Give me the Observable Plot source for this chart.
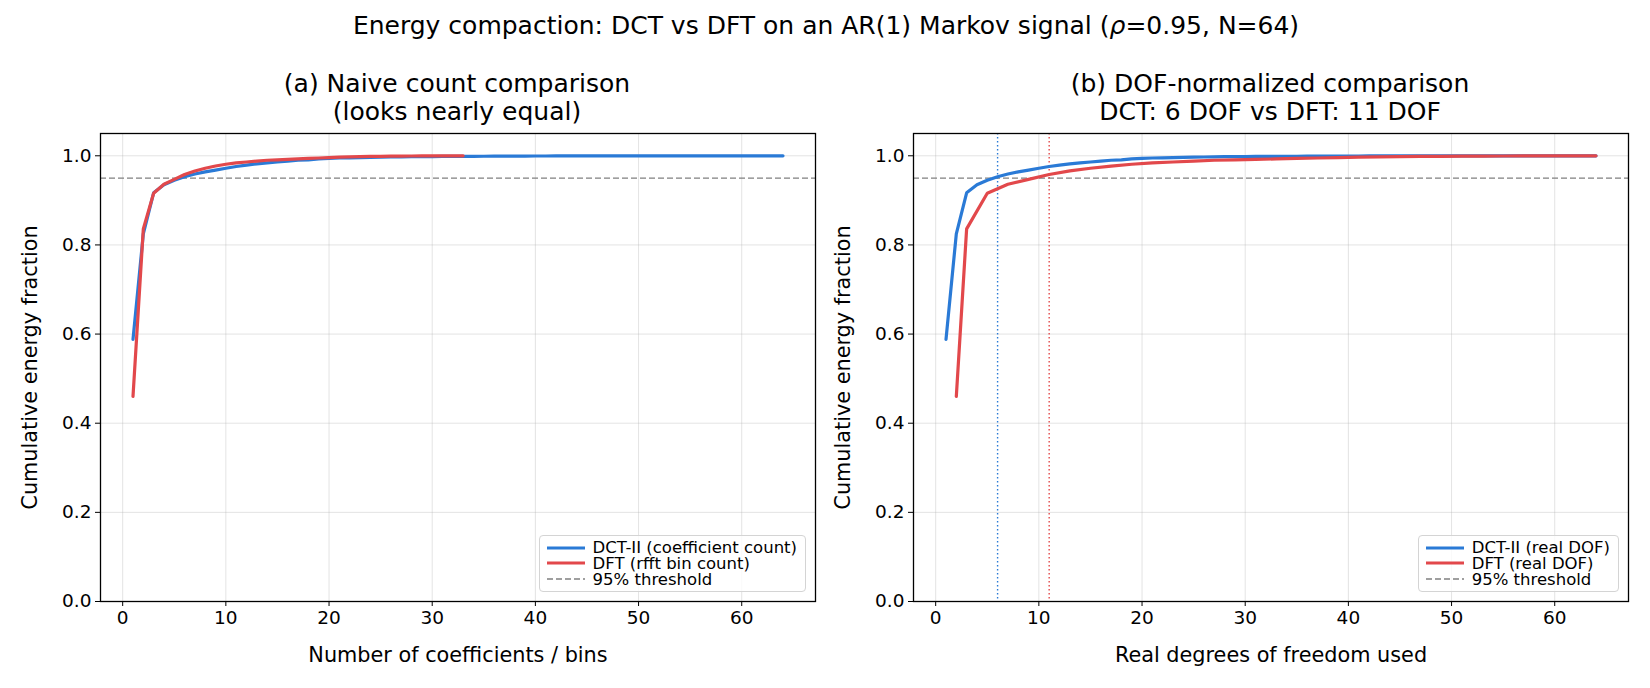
<!DOCTYPE html>
<html>
<head>
<meta charset="utf-8">
<script src="https://cdn.jsdelivr.net/npm/d3@7"></script>
<script src="https://cdn.jsdelivr.net/npm/@observablehq/plot@0.6"></script>
<style>
  html, body { margin: 0; padding: 0; background: #fff; }
  #fig { position: relative; width: 1650px; height: 688px; font-family: "DejaVu Sans", sans-serif; color: #000; }
  #fig svg.plot { position: absolute; top: 0; }
  .ttl { position: absolute; text-align: center; font-size: 25px; line-height: 28px; white-space: nowrap; transform: translateX(-50%); }
  .legend { position: absolute; background: rgba(255,255,255,0.8); border: 1px solid #d4d4d4; border-radius: 4px; padding: 4px 8px 4px 7px; font-size: 16.5px; }
  .legend .row { display: flex; align-items: center; height: 15.8px; white-space: nowrap; }
  .legend svg { margin-right: 8px; }
</style>
</head>
<body>
<div id="fig"></div>
<script>
// Cumulative energy fraction of the DCT-II coefficients, k = 1..64
const dctCount = [1,2,3,4,5,6,7,8,9,10,11,12,13,14,15,16,17,18,19,20,21,22,23,24,25,26,27,28,29,30,31,32,
  33,34,35,36,37,38,39,40,41,42,43,44,45,46,47,48,49,50,51,52,53,54,55,56,57,58,59,60,61,62,63,64];
const dctEnergy = [0.588,0.825,0.917,0.935,0.945,0.953,0.959,0.964,0.968,0.972,0.976,0.979,0.982,0.984,0.986,0.988,
  0.990,0.991,0.993,0.994,0.995,0.9955,0.996,0.9965,0.997,0.9973,0.9976,0.9979,0.9981,0.9983,0.9985,0.9987,
  0.9988,0.9989,0.9990,0.9991,0.9992,0.9993,0.9994,0.9995,0.99955,0.9996,0.99965,0.9997,0.99974,0.99978,0.99981,0.99984,
  0.99987,0.99989,0.99991,0.99993,0.99994,0.99995,0.99996,0.99997,0.99998,0.99998,0.99999,0.99999,0.99999,1.0,1.0,1.0];

// Cumulative energy fraction of the rfft bins, 33 bins
const dftCount = [1,2,3,4,5,6,7,8,9,10,11,12,13,14,15,16,17,18,19,20,21,22,23,24,25,26,27,28,29,30,31,32,33];
const dftEnergy = [0.460,0.836,0.916,0.936,0.947,0.958,0.966,0.972,0.977,0.981,0.984,0.986,0.988,0.990,0.991,0.992,
  0.993,0.994,0.995,0.996,0.997,0.9975,0.998,0.9985,0.9988,0.9991,0.9993,0.9995,0.9997,0.9998,0.9999,0.99995,1.0];

// Real degrees of freedom used by each transform
const dctDof = dctCount;
const dftDof = [2,3,5,7,9,11,13,15,17,19,21,23,25,27,29,31,33,35,37,39,41,43,45,47,49,51,53,55,57,59,61,63,64];

const threshold = 0.95;
const dofNeeded = { dct: 6, dft: 11 };

const xTicks = [0,10,20,30,40,50,60];
const yTicks = [0,0.2,0.4,0.6,0.8,1.0];

const BLUE = "#2a7ad6";
const RED = "#e2484b";
const GREY = "#808080";

const fig = document.getElementById("fig");

function rows(xs, ys) { return xs.map((x, i) => ({x, y: ys[i]})); }

function panel({width, xLabel, dct, dft, markers}) {
  const marks = [
    Plot.gridX(xTicks, {stroke: "#b0b0b0", strokeOpacity: 0.35, strokeWidth: 1}),
    Plot.gridY(yTicks, {stroke: "#b0b0b0", strokeOpacity: 0.35, strokeWidth: 1}),
    Plot.ruleY([threshold], {stroke: GREY, strokeWidth: 1.3, strokeDasharray: "6,3"})
  ];
  if (markers) {
    marks.push(Plot.ruleX([dofNeeded.dct], {stroke: BLUE, strokeWidth: 1.4, strokeDasharray: "1.5,2.5"}));
    marks.push(Plot.ruleX([dofNeeded.dft], {stroke: RED, strokeWidth: 1.4, strokeDasharray: "1.5,2.5"}));
  }
  marks.push(
    Plot.line(dct, {x: "x", y: "y", stroke: BLUE, strokeWidth: 3.2, strokeLinejoin: "miter"}),
    Plot.line(dft, {x: "x", y: "y", stroke: RED, strokeWidth: 3.2, strokeLinejoin: "miter"}),
    Plot.frame({stroke: "#000", strokeWidth: 1.3}),
    Plot.axisX(xTicks, {tickSize: 5, tickPadding: 4, fontSize: 18.5, label: null}),
    Plot.axisY(yTicks, {tickSize: 5, tickPadding: 4, fontSize: 18.5, tickFormat: d3.format(".1f"), label: null}),
    Plot.axisX({ticks: [], tickSize: 0, fontSize: 20.8, label: xLabel, labelAnchor: "center", labelArrow: "none", labelOffset: 60}),
    Plot.axisY({ticks: [], tickSize: 0, fontSize: 20.8, label: "Cumulative energy fraction", labelAnchor: "center", labelArrow: "none", labelOffset: 78})
  );
  const svg = Plot.plot({
    width: 100 + width + 20,
    height: 688,
    marginLeft: 100,
    marginRight: 20,
    marginTop: 133,
    marginBottom: 87,
    x: {domain: [-2.15, 67.15]},
    y: {domain: [0, 1.05]},
    style: {fontFamily: "DejaVu Sans", color: "#000", background: "transparent", overflow: "visible"},
    marks
  });
  svg.classList.add("plot");
  return svg;
}

function legend({right, bottom, entries}) {
  const box = document.createElement("div");
  box.className = "legend";
  box.style.right = right + "px";
  box.style.bottom = bottom + "px";
  for (const e of entries) {
    const row = document.createElement("div");
    row.className = "row";
    row.innerHTML = `<svg width="38" height="6"><line x1="0" x2="38" y1="3" y2="3" stroke="${e.color}" stroke-width="${e.w}" ${e.dash ? `stroke-dasharray="${e.dash}"` : ""}/></svg><span>${e.label}</span>`;
    box.appendChild(row);
  }
  return box;
}

// Panel (a): plain counts
const svgA = panel({width: 715, xLabel: "Number of coefficients / bins",
  dct: rows(dctCount, dctEnergy), dft: rows(dftCount, dftEnergy), markers: false});
svgA.style.left = "0px";
fig.appendChild(svgA);

// Panel (b): counts in real degrees of freedom
const svgB = panel({width: 715, xLabel: "Real degrees of freedom used",
  dct: rows(dctDof, dctEnergy), dft: rows(dftDof, dftEnergy), markers: true});
svgB.style.left = "813px";
fig.appendChild(svgB);

// Titles
function title(html, cx, top) {
  const d = document.createElement("div");
  d.className = "ttl";
  d.style.left = cx + "px";
  d.style.top = top + "px";
  d.innerHTML = html;
  fig.appendChild(d);
}
title("Energy compaction: DCT vs DFT on an AR(1) Markov signal (<i>ρ</i>=0.95, N=64)", 826, 12);
title("(a) Naive count comparison<br>(looks nearly equal)", 457, 70);
title("(b) DOF-normalized comparison<br>DCT: 6 DOF vs DFT: 11 DOF", 1270, 70);

// Legends, anchored to the lower-right corner of each frame
fig.appendChild(legend({right: 1650 - 806, bottom: 688 - 592, entries: [
  {label: "DCT-II (coefficient count)", color: BLUE, w: 3.2},
  {label: "DFT (rfft bin count)", color: RED, w: 3.2},
  {label: "95% threshold", color: GREY, w: 1.3, dash: "6,3"}
]}));
fig.appendChild(legend({right: 1650 - 1619, bottom: 688 - 592, entries: [
  {label: "DCT-II (real DOF)", color: BLUE, w: 3.2},
  {label: "DFT (real DOF)", color: RED, w: 3.2},
  {label: "95% threshold", color: GREY, w: 1.3, dash: "6,3"}
]}));
</script>
</body>
</html>
